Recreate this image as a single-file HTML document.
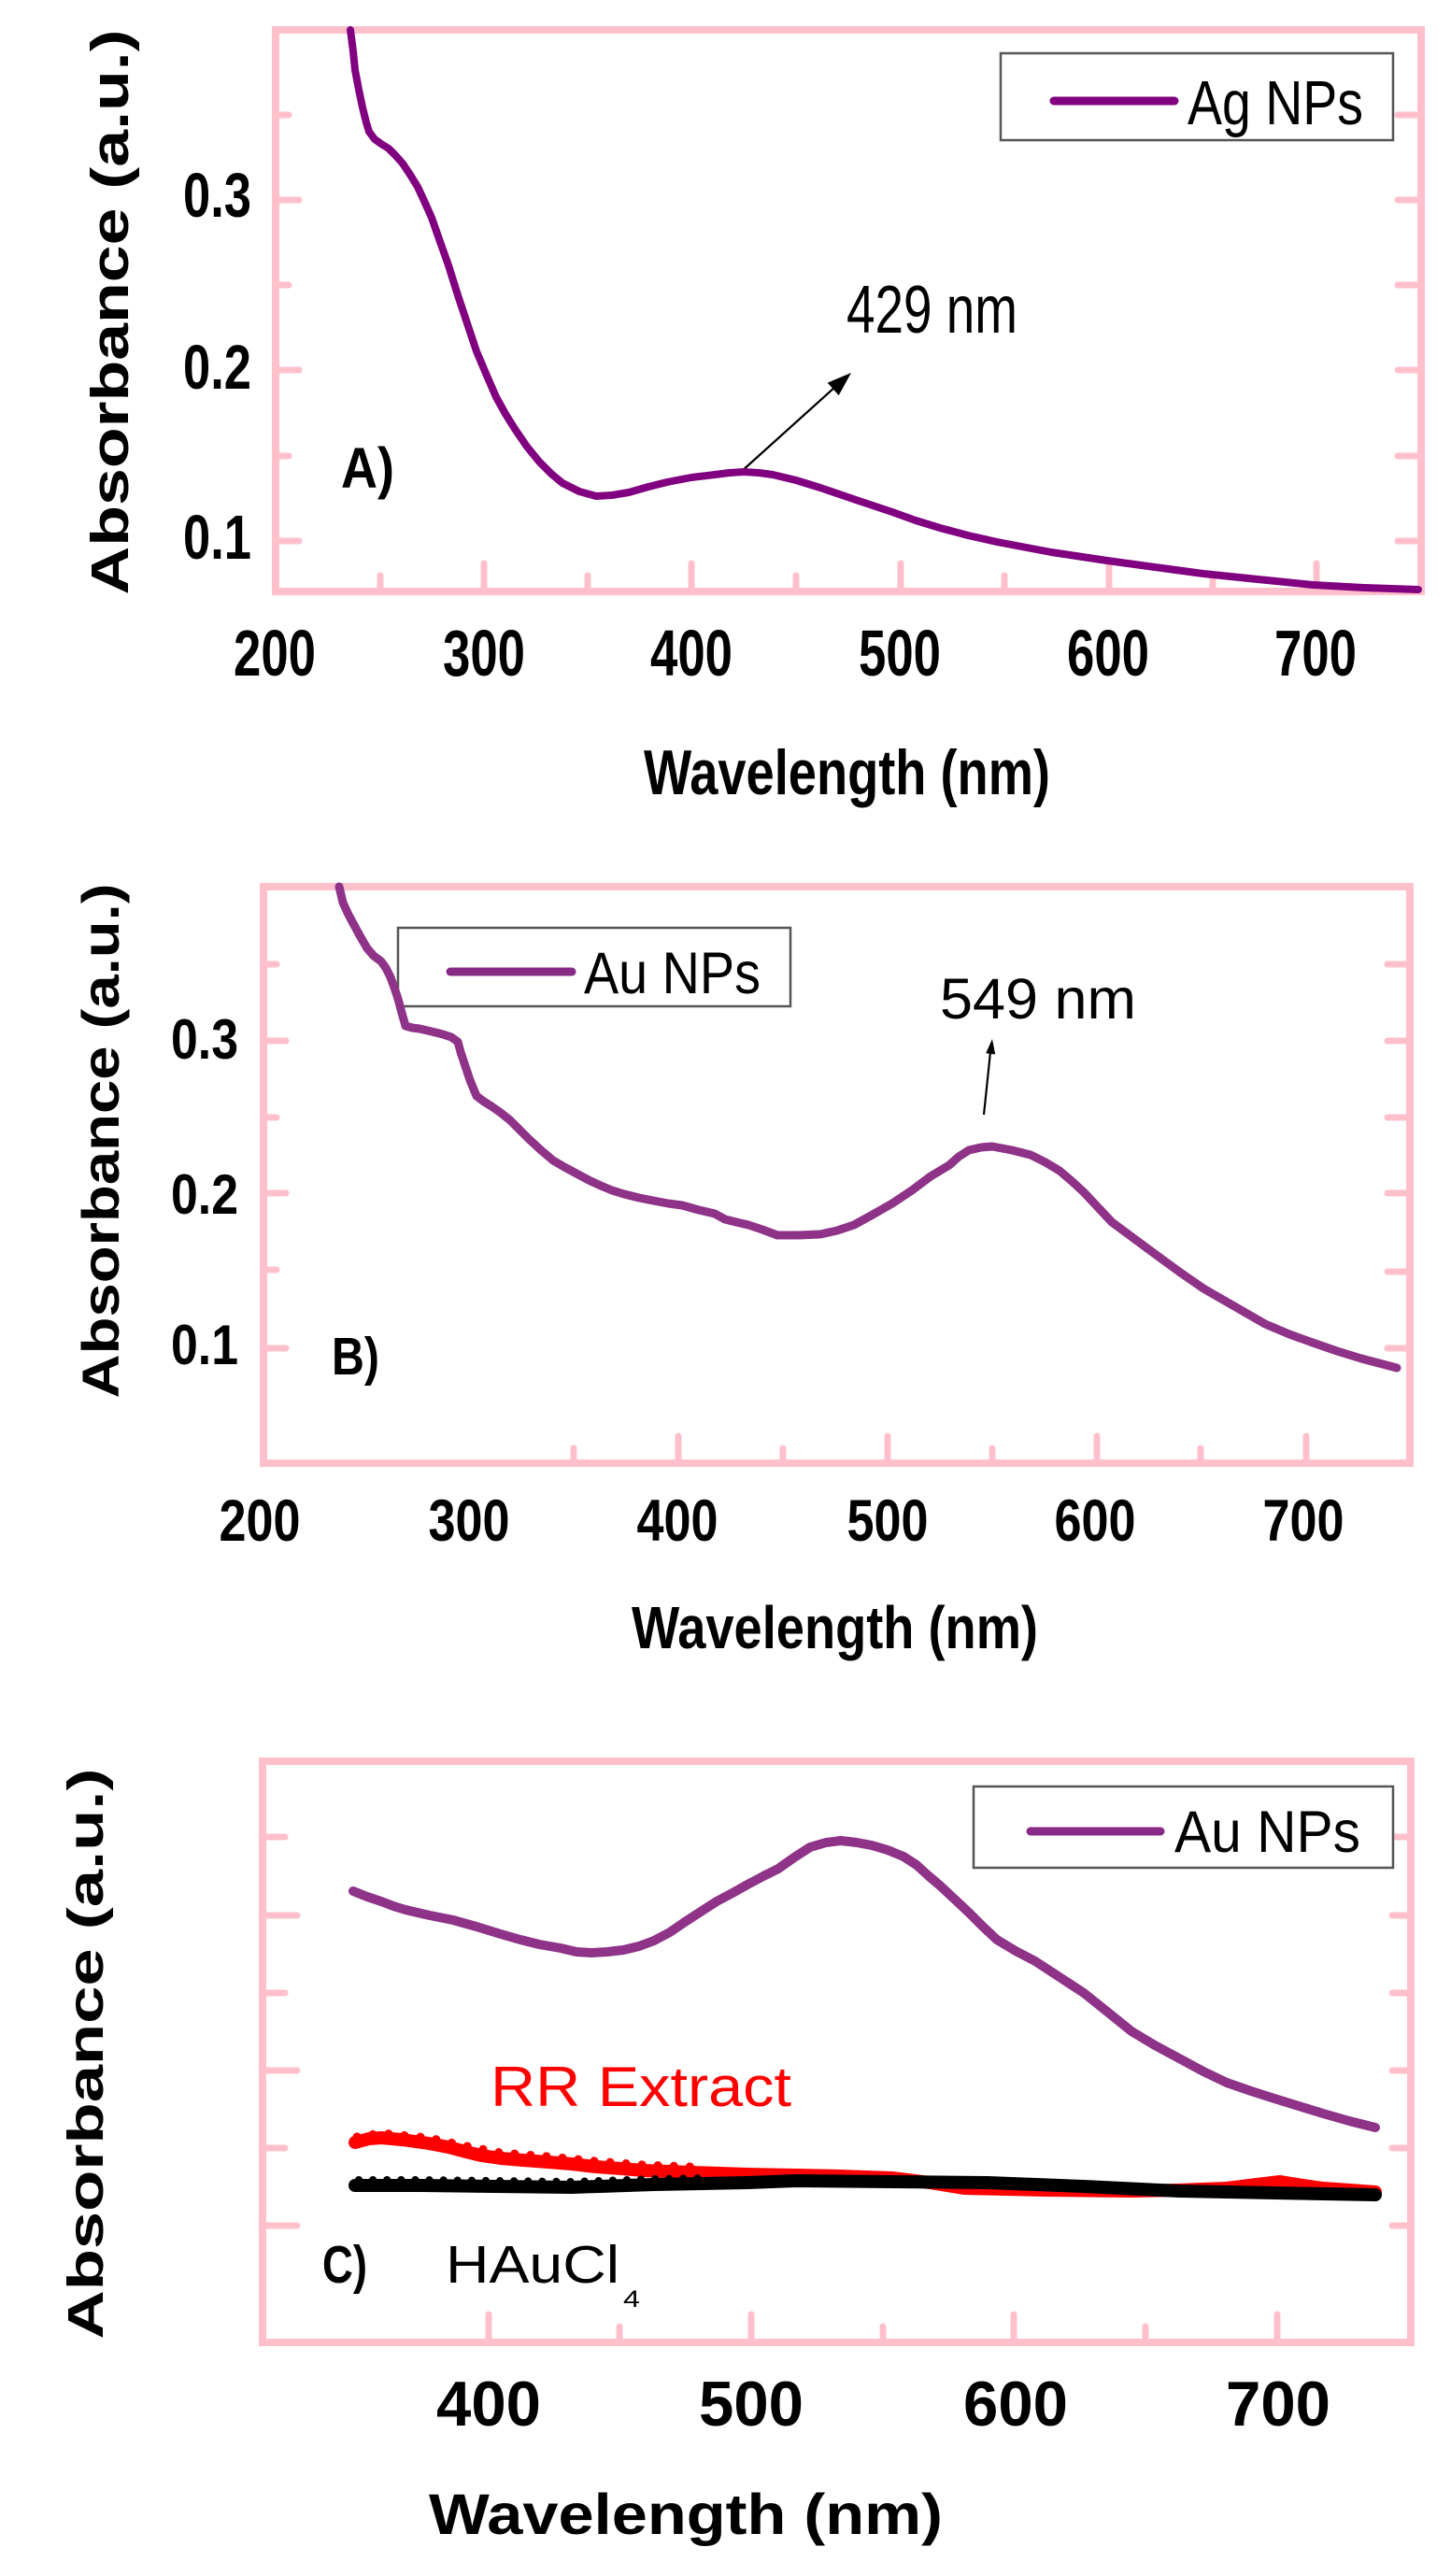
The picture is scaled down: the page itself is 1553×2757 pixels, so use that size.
<!DOCTYPE html>
<html>
<head>
<meta charset="utf-8">
<style>
html,body{margin:0;padding:0;background:#ffffff;}
svg{display:block;}
text{font-family:"Liberation Sans",Arial,sans-serif;}
.b{font-weight:bold;}
</style>
</head>
<body>
<svg width="1553" height="2757" viewBox="0 0 1553 2757" xmlns="http://www.w3.org/2000/svg">
<rect x="0" y="0" width="1553" height="2757" fill="#ffffff"/>

<!-- ================= PANEL A ================= -->
<g>
  <rect x="295" y="32" width="1226" height="601" fill="none" stroke="#ffc0cb" stroke-width="8"/>
  <g stroke="#ffc0cb" stroke-width="7" stroke-linecap="round">
    <line x1="299" y1="579" x2="320" y2="579"/>
    <line x1="299" y1="396" x2="320" y2="396"/>
    <line x1="299" y1="214" x2="320" y2="214"/>
    <line x1="299" y1="488" x2="309" y2="488"/>
    <line x1="299" y1="305" x2="309" y2="305"/>
    <line x1="299" y1="123" x2="309" y2="123"/>
    <line x1="1517" y1="579" x2="1496" y2="579"/>
    <line x1="1517" y1="396" x2="1496" y2="396"/>
    <line x1="1517" y1="214" x2="1496" y2="214"/>
    <line x1="1517" y1="488" x2="1496" y2="488"/>
    <line x1="1517" y1="305" x2="1496" y2="305"/>
    <line x1="1517" y1="123" x2="1496" y2="123"/>
    <line x1="518" y1="629" x2="518" y2="603"/>
    <line x1="740" y1="629" x2="740" y2="603"/>
    <line x1="964" y1="629" x2="964" y2="603"/>
    <line x1="1187" y1="629" x2="1187" y2="603"/>
    <line x1="1409" y1="629" x2="1409" y2="603"/>
    <line x1="407" y1="629" x2="407" y2="616"/>
    <line x1="629" y1="629" x2="629" y2="616"/>
    <line x1="852" y1="629" x2="852" y2="616"/>
    <line x1="1075" y1="629" x2="1075" y2="616"/>
    <line x1="1298" y1="629" x2="1298" y2="616"/>
  </g>
  <g class="b" font-size="70" fill="#000" text-anchor="middle">
    <text x="294" y="723" textLength="88" lengthAdjust="spacingAndGlyphs">200</text>
    <text x="518" y="723" textLength="88" lengthAdjust="spacingAndGlyphs">300</text>
    <text x="740" y="723" textLength="88" lengthAdjust="spacingAndGlyphs">400</text>
    <text x="963" y="723" textLength="88" lengthAdjust="spacingAndGlyphs">500</text>
    <text x="1186" y="723" textLength="88" lengthAdjust="spacingAndGlyphs">600</text>
    <text x="1408" y="723" textLength="88" lengthAdjust="spacingAndGlyphs">700</text>
  </g>
  <g class="b" font-size="67" fill="#000" text-anchor="end">
    <text x="269" y="232" textLength="73" lengthAdjust="spacingAndGlyphs">0.3</text>
    <text x="269" y="416" textLength="73" lengthAdjust="spacingAndGlyphs">0.2</text>
    <text x="269" y="598" textLength="73" lengthAdjust="spacingAndGlyphs">0.1</text>
  </g>
  <text class="b" font-size="57" fill="#000" text-anchor="middle" transform="translate(137,334) rotate(-90)" textLength="605" lengthAdjust="spacingAndGlyphs">Absorbance (a.u.)</text>
  <text class="b" font-size="68" fill="#000" x="689" y="850" textLength="435" lengthAdjust="spacingAndGlyphs">Wavelength (nm)</text>
  <text class="b" font-size="61" fill="#000" x="365" y="522" textLength="57" lengthAdjust="spacingAndGlyphs">A)</text>
  <rect x="1071" y="57" width="420" height="93" fill="#ffffff" stroke="#555" stroke-width="2.5"/>
  <line x1="1128" y1="108" x2="1257" y2="108" stroke="#800080" stroke-width="9" stroke-linecap="round"/>
  <text font-size="67" fill="#000" x="1271" y="133" textLength="188" lengthAdjust="spacingAndGlyphs">Ag NPs</text>
  <text font-size="72" fill="#000" x="906" y="356" textLength="183" lengthAdjust="spacingAndGlyphs">429 nm</text>
  <line x1="793" y1="505" x2="894" y2="414" stroke="#000" stroke-width="2.2"/>
  <polygon points="911,399 897.7,423.1 885.7,409.7" fill="#000"/>
  <polyline fill="none" stroke="#800080" stroke-width="8" stroke-linejoin="round" stroke-linecap="round"
    points="375,32 378,55 380,75 384,96 388,115 392,131 395,141 401,149 408,154 416,159 423,166 431,175 439,187 447,200 454,215 462,233 469,253 480,284 490,316 500,346 510,376 521,402 531,425 541,443 551,459 564,478 577,494 590,507 602,517 620,526 638,531 655,530 673,527 694,521 714,516 740,511 765,508 781,506 796,505 812,506 827,508 852,514 878,522 916,535 955,548 980,557 1006,565 1036,573 1067,580 1125,591 1185,600 1236,607 1288,614 1346,620 1405,626 1460,629 1518,631"/>
</g>

<!-- ================= PANEL B ================= -->
<g>
  <rect x="282" y="949" width="1227" height="617" fill="none" stroke="#ffc0cb" stroke-width="8"/>
  <g stroke="#ffc0cb" stroke-width="7" stroke-linecap="round">
    <line x1="286" y1="1114" x2="306" y2="1114"/>
    <line x1="286" y1="1277" x2="306" y2="1277"/>
    <line x1="286" y1="1443" x2="306" y2="1443"/>
    <line x1="286" y1="1032" x2="296" y2="1032"/>
    <line x1="286" y1="1196" x2="296" y2="1196"/>
    <line x1="286" y1="1359" x2="296" y2="1359"/>
    <line x1="1505" y1="1032" x2="1485" y2="1032"/>
    <line x1="1505" y1="1114" x2="1485" y2="1114"/>
    <line x1="1505" y1="1196" x2="1485" y2="1196"/>
    <line x1="1505" y1="1277" x2="1485" y2="1277"/>
    <line x1="1505" y1="1361" x2="1485" y2="1361"/>
    <line x1="1505" y1="1443" x2="1485" y2="1443"/>
    <line x1="726" y1="1562" x2="726" y2="1537"/>
    <line x1="950" y1="1562" x2="950" y2="1537"/>
    <line x1="1174" y1="1562" x2="1174" y2="1537"/>
    <line x1="1398" y1="1562" x2="1398" y2="1537"/>
    <line x1="614" y1="1562" x2="614" y2="1550"/>
    <line x1="838" y1="1562" x2="838" y2="1550"/>
    <line x1="1062" y1="1562" x2="1062" y2="1550"/>
    <line x1="1285" y1="1562" x2="1285" y2="1550"/>
  </g>
  <g class="b" font-size="63" fill="#000" text-anchor="middle">
    <text x="278" y="1649" textLength="87" lengthAdjust="spacingAndGlyphs">200</text>
    <text x="502" y="1649" textLength="87" lengthAdjust="spacingAndGlyphs">300</text>
    <text x="725" y="1649" textLength="87" lengthAdjust="spacingAndGlyphs">400</text>
    <text x="950" y="1649" textLength="87" lengthAdjust="spacingAndGlyphs">500</text>
    <text x="1172" y="1649" textLength="87" lengthAdjust="spacingAndGlyphs">600</text>
    <text x="1395" y="1649" textLength="87" lengthAdjust="spacingAndGlyphs">700</text>
  </g>
  <g class="b" font-size="60" fill="#000" text-anchor="end">
    <text x="255" y="1133" textLength="72" lengthAdjust="spacingAndGlyphs">0.3</text>
    <text x="255" y="1299" textLength="72" lengthAdjust="spacingAndGlyphs">0.2</text>
    <text x="255" y="1460" textLength="72" lengthAdjust="spacingAndGlyphs">0.1</text>
  </g>
  <text class="b" font-size="56" fill="#000" text-anchor="middle" transform="translate(127,1221) rotate(-90)" textLength="551" lengthAdjust="spacingAndGlyphs">Absorbance (a.u.)</text>
  <text class="b" font-size="64" fill="#000" x="676" y="1764" textLength="435" lengthAdjust="spacingAndGlyphs">Wavelength (nm)</text>
  <text class="b" font-size="57" fill="#000" x="355" y="1471" textLength="51" lengthAdjust="spacingAndGlyphs">B)</text>
  <rect x="426" y="993" width="420" height="84" fill="#ffffff" stroke="#555" stroke-width="2.5"/>
  <line x1="482" y1="1040" x2="612" y2="1040" stroke="#862a86" stroke-width="9" stroke-linecap="round"/>
  <text font-size="63" fill="#000" x="625" y="1063" textLength="189" lengthAdjust="spacingAndGlyphs">Au NPs</text>
  <text font-size="61" fill="#000" x="1006" y="1090" textLength="210" lengthAdjust="spacingAndGlyphs">549 nm</text>
  <line x1="1053" y1="1193" x2="1060" y2="1126" stroke="#000" stroke-width="2.2"/>
  <polygon points="1062,1112 1065.2,1128.5 1055.2,1127.3" fill="#000"/>
  <polyline fill="none" stroke="#8e3388" stroke-width="9" stroke-linejoin="round" stroke-linecap="round"
    points="363,949 367,966 373,979 380,992 386,1003 393,1015 400,1023 408,1029 413,1036 418,1046 422,1057 426,1069 430,1084 434,1098 441,1100 449,1101 462,1104 474,1107 483,1110 490,1115 493,1126 497,1138 503,1156 510,1173 518,1179 526,1184 536,1191 546,1199 556,1209 566,1219 579,1231 592,1242 604,1249 617,1256 630,1263 643,1269 655,1274 668,1278 684,1282 699,1285 715,1288 730,1290 748,1295 765,1299 776,1305 788,1308 801,1311 816,1316 832,1322 855,1322 878,1321 896,1317 914,1311 934,1300 955,1288 976,1274 996,1259 1006,1253 1016,1247 1026,1238 1037,1231 1050,1228 1062,1227 1083,1231 1103,1236 1119,1244 1134,1253 1147,1264 1160,1276 1175,1292 1190,1308 1213,1325 1236,1342 1262,1361 1288,1379 1321,1398 1354,1417 1380,1428 1405,1437 1431,1446 1457,1454 1476,1459 1495,1464"/>
</g>

<!-- ================= PANEL C ================= -->
<g>
  <rect x="281" y="1885" width="1229" height="622" fill="none" stroke="#ffc0cb" stroke-width="8"/>
  <g stroke="#ffc0cb" stroke-width="7" stroke-linecap="round">
    <line x1="285" y1="2050" x2="318" y2="2050"/>
    <line x1="285" y1="2216" x2="318" y2="2216"/>
    <line x1="285" y1="2382" x2="318" y2="2382"/>
    <line x1="285" y1="1966" x2="305" y2="1966"/>
    <line x1="285" y1="2133" x2="305" y2="2133"/>
    <line x1="285" y1="2299" x2="305" y2="2299"/>
    <line x1="1506" y1="1966" x2="1490" y2="1966"/>
    <line x1="1506" y1="2050" x2="1490" y2="2050"/>
    <line x1="1506" y1="2133" x2="1490" y2="2133"/>
    <line x1="1506" y1="2216" x2="1490" y2="2216"/>
    <line x1="1506" y1="2299" x2="1490" y2="2299"/>
    <line x1="1506" y1="2382" x2="1490" y2="2382"/>
    <line x1="523" y1="2503" x2="523" y2="2477"/>
    <line x1="804" y1="2503" x2="804" y2="2477"/>
    <line x1="1085" y1="2503" x2="1085" y2="2477"/>
    <line x1="1367" y1="2503" x2="1367" y2="2477"/>
    <line x1="663" y1="2503" x2="663" y2="2490"/>
    <line x1="945" y1="2503" x2="945" y2="2490"/>
    <line x1="1226" y1="2503" x2="1226" y2="2490"/>
  </g>
  <g class="b" font-size="68" fill="#000" text-anchor="middle">
    <text x="523" y="2596" textLength="112" lengthAdjust="spacingAndGlyphs">400</text>
    <text x="804" y="2596" textLength="112" lengthAdjust="spacingAndGlyphs">500</text>
    <text x="1087" y="2596" textLength="112" lengthAdjust="spacingAndGlyphs">600</text>
    <text x="1368" y="2596" textLength="112" lengthAdjust="spacingAndGlyphs">700</text>
  </g>
  <text class="b" font-size="54" fill="#000" text-anchor="middle" transform="translate(110,2198) rotate(-90)" textLength="611" lengthAdjust="spacingAndGlyphs">Absorbance (a.u.)</text>
  <text class="b" font-size="61" fill="#000" x="459" y="2712" textLength="550" lengthAdjust="spacingAndGlyphs">Wavelength (nm)</text>
  <text font-size="60" fill="#ff0000" x="525" y="2254" textLength="322" lengthAdjust="spacingAndGlyphs">RR Extract</text>
  <text class="b" font-size="57" fill="#000" x="345" y="2443" textLength="48" lengthAdjust="spacingAndGlyphs">C)</text>
  <text font-size="57" fill="#000" x="477" y="2443" textLength="186" lengthAdjust="spacingAndGlyphs">HAuCl</text>
  <text font-size="25" fill="#000" x="667" y="2469" textLength="18" lengthAdjust="spacingAndGlyphs">4</text>
  <rect x="1042" y="1912" width="449" height="87" fill="#ffffff" stroke="#555" stroke-width="2.5"/>
  <line x1="1103" y1="1960" x2="1242" y2="1960" stroke="#862a86" stroke-width="9" stroke-linecap="round"/>
  <text font-size="63" fill="#000" x="1257" y="1982" textLength="199" lengthAdjust="spacingAndGlyphs">Au NPs</text>
  <polyline fill="none" stroke="#8e3388" stroke-width="10" stroke-linejoin="round" stroke-linecap="round"
    points="378,2024 393,2030 408,2035 421,2040 434,2044 460,2050 485,2055 510,2062 536,2070 557,2076 577,2081 600,2085 617,2089 633,2090 650,2089 667,2087 684,2083 700,2077 717,2068 733,2057 750,2046 767,2035 784,2026 800,2017 817,2008 833,2000 850,1988 867,1977 884,1972 900,1970 917,1972 933,1975 950,1980 967,1987 981,1996 993,2007 1006,2018 1021,2032 1037,2047 1052,2062 1067,2076 1087,2088 1108,2099 1134,2116 1160,2133 1185,2153 1211,2174 1236,2189 1262,2203 1288,2217 1313,2229 1339,2238 1364,2246 1390,2254 1416,2262 1444,2270 1472,2277"/>
  <polyline fill="none" stroke="#ff0000" stroke-width="14" stroke-linejoin="round" stroke-linecap="round"
    points="380,2293 395,2289 408,2288 430,2290 459,2294 480,2298 495,2302 515,2307 536,2310 560,2312 587,2314 612,2316 638,2319 665,2321 689,2323 715,2324 740,2325 770,2326 800,2327 852,2328 900,2329 955,2331 995,2336 1032,2342 1120,2344 1211,2345 1260,2344 1313,2342 1345,2338 1370,2335 1395,2339 1416,2342 1445,2344 1472,2346"/>
  <polyline fill="none" stroke="#ff0000" stroke-width="9" stroke-linecap="round" stroke-dasharray="0.1 17"
    points="382,2287 408,2283 459,2288 495,2296 536,2304 587,2308 638,2313 689,2317 740,2319"/>
  <polyline fill="none" stroke="#000000" stroke-width="14" stroke-linejoin="round" stroke-linecap="round"
    points="380,2339 450,2339 530,2340 612,2341 700,2338 800,2336 852,2334 955,2335 1057,2336 1160,2340 1262,2345 1364,2347 1472,2349"/>
  <polyline fill="none" stroke="#000000" stroke-width="8" stroke-linecap="round" stroke-dasharray="0.1 15"
    points="384,2333 450,2333 530,2334 612,2335 700,2332 760,2331"/>
</g>
</svg>
</body>
</html>
